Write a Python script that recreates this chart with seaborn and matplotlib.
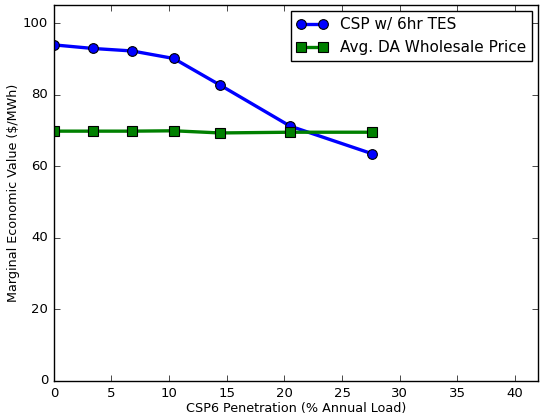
import pandas as pd
import matplotlib
matplotlib.use('Agg')
import matplotlib.pyplot as plt
import seaborn as sns

plt.style.use('classic')

# Penetração do CSP6 (% da carga anual)
penetracao = [0.0, 3.4, 6.8, 10.4, 14.4, 20.5, 27.6]
csp_tes = [93.9, 92.9, 92.2, 90.1, 82.7, 71.2, 63.5]
preco_da = [69.8, 69.8, 69.8, 69.9, 69.3, 69.5, 69.5]

rotulos = ['CSP w/ 6hr TES', 'Avg. DA Wholesale Price']

df = pd.DataFrame({
    'pen': penetracao * 2,
    'valor': csp_tes + preco_da,
    'serie': [rotulos[0]] * len(penetracao) + [rotulos[1]] * len(penetracao),
})

fig = plt.figure(figsize=(5.44, 4.19), dpi=100, facecolor='white')
ax = fig.add_axes([0.099, 0.0907, 0.890, 0.897])

sns.lineplot(data=df, x='pen', y='valor', hue='serie', style='serie',
             palette={rotulos[0]: 'blue', rotulos[1]: 'green'},
             markers={rotulos[0]: 'o', rotulos[1]: 's'},
             dashes=False, linewidth=2.4, markersize=7,
             markeredgecolor='black', markeredgewidth=0.8,
             ax=ax, legend=False)

for lab, cor, mk in zip(rotulos, ['blue', 'green'], ['o', 's']):
    ax.plot([], [], color=cor, marker=mk, lw=2.4, ms=7, mec='black', mew=0.8, label=lab)

ax.set_xlim(0, 42)
ax.set_ylim(0, 105)
ax.set_xticks(range(0, 41, 5))
ax.set_yticks(range(0, 101, 20))
ax.tick_params(labelsize=9.5)
ax.set_xlabel('CSP6 Penetration (% Annual Load)', fontsize=9.2, labelpad=2)
ax.set_ylabel('Marginal Economic Value ($/MWh)', fontsize=9.2, labelpad=2)
ax.legend(loc='upper right', numpoints=2, fontsize=11, fancybox=False,
          handlelength=2, borderaxespad=0.4)

fig.savefig('out.png', dpi=100, facecolor='white')
